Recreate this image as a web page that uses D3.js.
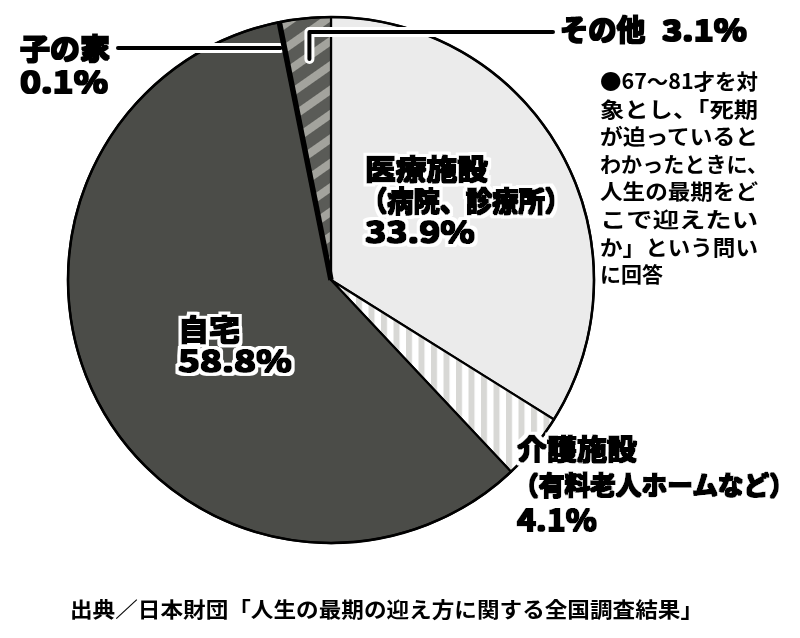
<!DOCTYPE html>
<html><head><meta charset="utf-8">
<script src="https://cdn.jsdelivr.net/npm/d3@7"></script>
<style>body{margin:0;background:#fff}svg{display:block}</style>
</head><body><svg id="c" width="800" height="638"></svg>
<script>
// ---- data ----
const categories = ["医療施設", "介護施設", "自宅", "子の家", "その他"];
const subLabels = ["（病院、診療所）", "（有料老人ホームなど）", "", "", ""];
const values = [33.9, 4.1, 58.8, 0.1, 3.1];
const noteLines = ["●67～81才を対", "象とし、「死期", "が迫っていると", "わかったときに、", "人生の最期をど", "こで迎えたい", "か」という問い", "に回答"];
const sourceText = "出典／日本財団「人生の最期の迎え方に関する全国調査結果」";

// ---- style ----
const fills = ["#ebebeb", "url(#stripeV)", "#4b4c48", "#111", "url(#stripeD)"];
const FONT = "'Noto Sans CJK JP','Noto Sans',sans-serif";

const svg = d3.select("#c");
const cx = 331, cy = 280, R = 263;

const defs = svg.append("defs");
const pv = defs.append("pattern").attr("id", "stripeV").attr("patternUnits", "userSpaceOnUse")
  .attr("width", 12.5).attr("height", 10);
pv.append("rect").attr("width", 12.5).attr("height", 10).attr("fill", "#fff");
pv.append("rect").attr("width", 6).attr("height", 10).attr("fill", "#d8d8d5");
const pd = defs.append("pattern").attr("id", "stripeD").attr("patternUnits", "userSpaceOnUse")
  .attr("width", 20).attr("height", 20).attr("patternTransform", "rotate(-35)");
pd.append("rect").attr("width", 20).attr("height", 20).attr("fill", "#5a5b57");
pd.append("rect").attr("width", 20).attr("height", 8).attr("fill", "#a3a39d");

function mkFilter(id, halo, thick) {
  const f = defs.append("filter").attr("id", id)
    .attr("x", "-20%").attr("y", "-20%").attr("width", "140%").attr("height", "140%");
  if (halo) {
    f.append("feMorphology").attr("in", "SourceAlpha").attr("operator", "dilate").attr("radius", halo).attr("result", "d");
    f.append("feFlood").attr("flood-color", "#fff").attr("result", "fl");
    f.append("feComposite").attr("in", "fl").attr("in2", "d").attr("operator", "in").attr("result", "w");
  }
  f.append("feMorphology").attr("in", "SourceGraphic").attr("operator", "dilate").attr("radius", thick).attr("result", "b");
  const m = f.append("feMerge");
  if (halo) m.append("feMergeNode").attr("in", "w");
  m.append("feMergeNode").attr("in", "b");
}
mkFilter("haloBold", 4, 0.6);
mkFilter("bold", 0, 0.6);
mkFilter("semi", 0, 0.3);

const pie = d3.pie().sort(null).value(d => d)(values);
const arc = d3.arc().innerRadius(0).outerRadius(R);
const g = svg.append("g").attr("transform", `translate(${cx},${cy})`);
g.selectAll("path.s").data(pie).join("path").attr("class", "s")
  .attr("d", arc).attr("fill", (d, i) => fills[i])
  .attr("stroke", "#000").attr("stroke-width", 2.2).attr("stroke-linejoin", "round");
g.append("circle").attr("r", R).attr("fill", "none").attr("stroke", "#000").attr("stroke-width", 2.5);

// leader lines
function leader(pts) {
  const line = d3.line();
  svg.append("path").attr("d", line(pts)).attr("fill", "none").attr("stroke", "#fff")
    .attr("stroke-width", 10).attr("stroke-linecap", "round").attr("stroke-linejoin", "round");
  svg.append("path").attr("d", line(pts)).attr("fill", "none").attr("stroke", "#000")
    .attr("stroke-width", 4).attr("stroke-linecap", "round").attr("stroke-linejoin", "round");
}
const kid = pie[3];
const ka = (kid.startAngle + kid.endAngle) / 2;
{
  const y = 48, r = (cy - y) / Math.cos(ka);
  const x = cx + r * Math.sin(ka) - 4;
  leader([[118, y], [x, y]]);
}
{
  const o = pie[4], a = (o.startAngle + o.endAngle) / 2, r = 222;
  const x = cx + r * Math.sin(a), y = cy - r * Math.cos(a);
  leader([[x, y], [x, 32], [553, 32]]);
}
// the tiny 子の家 slice drawn as a heavy line
svg.append("line").attr("x1", cx).attr("y1", cy)
  .attr("x2", cx + R * Math.sin(ka)).attr("y2", cy - R * Math.cos(ka))
  .attr("stroke", "#000").attr("stroke-width", 5.5);

// multi-line label: one <text>, lines as tspans [x, y, string, size, length]
function label(lines, filter) {
  const t = svg.append("text").attr("font-family", FONT).attr("font-weight", 700)
    .attr("fill", "#000").attr("filter", `url(#${filter})`);
  lines.forEach(([x, y, s, size, len]) => {
    const ts = t.append("tspan").attr("x", x).attr("y", y).attr("font-size", size).text(s);
    if (len) ts.attr("textLength", len).attr("lengthAdjust", "spacingAndGlyphs");
  });
  return t;
}
const pct = i => values[i].toFixed(1) + "%";

label([[365, 180, categories[0], 28, 123], [361, 212, subLabels[0], 28, 210], [365, 243, pct(0), 29, 110]], "haloBold");
label([[178, 341, categories[2], 29, 62], [178, 372, pct(2), 29, 114]], "haloBold");
label([[517, 460, categories[1], 28, 120], [513, 495, subLabels[1], 26, 282], [517, 531, pct(1), 29, 80]], "haloBold");
label([[20, 60, categories[3], 29, 90], [20, 93, pct(3), 29, 88]], "bold");
label([[560, 41, categories[4], 29, 85]], "bold");
label([[662, 41, pct(4), 29, 85]], "bold");

// note
label(noteLines.map((s, i) => [600, 89 + i * 27.6, s, 21, i === 7 ? null : (i === 3 ? 168 : 158)]), "semi");
// source
label([[70, 617, sourceText, 21, 633]], "semi");
</script></body></html>
